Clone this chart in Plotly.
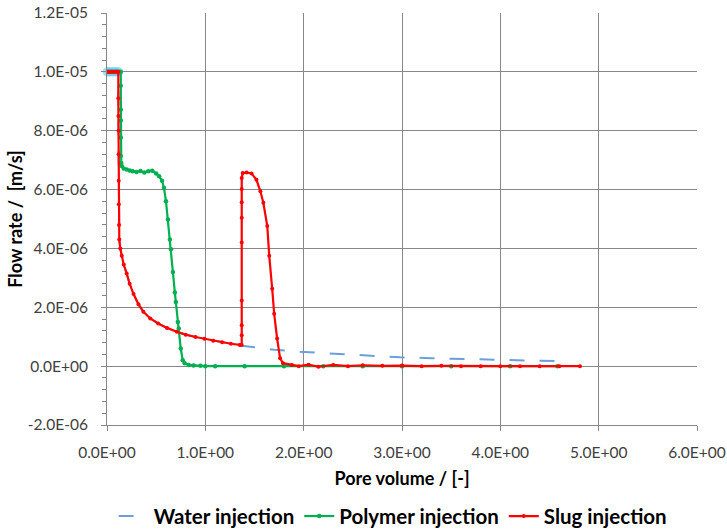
import plotly.graph_objects as go

SCALE = 1e-6  # values below are in units of 1e-6 m/s

water_x = [0.00, 0.03, 0.06, 0.09, 0.115, 0.118, 0.12, 0.125, 0.135, 0.15, 0.17, 0.20, 0.23, 0.27, 0.32,
           0.37, 0.44, 0.52, 0.61, 0.71, 0.80, 0.90, 0.99, 1.08, 1.17, 1.26, 1.35, 1.50, 1.70, 1.96,
           2.30, 2.60, 2.98, 3.30, 3.60, 3.98, 4.30, 4.56]
water_y = [10.0, 10.0, 10.0, 10.0, 10.0, 7.2, 5.5, 4.3, 4.0, 3.75, 3.45, 3.15, 2.8, 2.45, 2.1,
           1.85, 1.62, 1.45, 1.3, 1.17, 1.07, 0.99, 0.93, 0.86, 0.81, 0.76, 0.70, 0.64, 0.56, 0.49,
           0.42, 0.37, 0.30, 0.27, 0.24, 0.21, 0.19, 0.17]

glow_x = [-0.04, 0.00, 0.03, 0.06, 0.09, 0.12]
glow_y = [10.0, 10.0, 10.0, 10.0, 10.0, 10.0]

poly_x = [0.00, 0.02, 0.04, 0.06, 0.08, 0.10, 0.12, 0.14, 0.14, 0.14, 0.14, 0.14, 0.14, 0.145, 0.15,
          0.17, 0.20, 0.23, 0.26, 0.30, 0.34, 0.38, 0.42, 0.46, 0.50, 0.53, 0.56, 0.58, 0.60, 0.62,
          0.64, 0.65, 0.67, 0.69, 0.70, 0.72, 0.73, 0.75, 0.77, 0.79, 0.83, 0.88, 0.95, 1.00, 1.10,
          1.40, 1.80, 2.20, 2.60, 3.00, 3.50, 4.10, 4.58]
poly_y = [10.0, 10.0, 10.0, 10.0, 10.0, 10.0, 10.0, 10.0, 9.53, 8.71, 8.35, 7.77, 7.14, 6.90, 6.80,
          6.72, 6.68, 6.65, 6.62, 6.60, 6.63, 6.58, 6.62, 6.64, 6.55, 6.45, 6.30, 6.05, 5.60, 4.98,
          4.30, 3.97, 3.20, 2.50, 2.18, 1.50, 1.28, 0.60, 0.20, 0.10, 0.04, 0.02, 0.01, 0.0, 0.0,
          0.0, 0.0, 0.0, 0.0, 0.0, 0.0, 0.0, 0.0]

slug_x = [0.00, 0.02, 0.04, 0.06, 0.08, 0.10, 0.115, 0.115, 0.116, 0.117, 0.118, 0.119, 0.12, 0.122,
          0.125, 0.135, 0.15, 0.17, 0.20, 0.23, 0.27, 0.32, 0.37, 0.44, 0.52, 0.61, 0.71, 0.80, 0.90,
          0.99, 1.08, 1.17, 1.26, 1.35, 1.37, 1.37, 1.37, 1.37, 1.37, 1.37, 1.37, 1.37, 1.37, 1.38,
          1.42, 1.47, 1.52, 1.56, 1.59, 1.63, 1.65, 1.68, 1.70, 1.73, 1.76, 1.79, 1.88, 1.95, 2.05,
          2.15, 2.30, 2.45, 2.60, 2.80, 3.00, 3.20, 3.40, 3.60, 3.80, 4.00, 4.20, 4.40, 4.60, 4.81]
slug_y = [10.0, 10.0, 10.0, 10.0, 10.0, 10.0, 10.0, 9.1, 8.5, 8.0, 7.2, 6.3, 5.5, 4.8,
          4.3, 4.0, 3.75, 3.45, 3.15, 2.8, 2.45, 2.1, 1.85, 1.62, 1.45, 1.3, 1.17, 1.07, 0.99,
          0.93, 0.86, 0.81, 0.76, 0.72, 0.72, 1.05, 1.39, 2.23, 4.2, 5.04, 5.57, 6.02, 6.39, 6.56,
          6.58, 6.55, 6.33, 5.94, 5.55, 4.76, 3.75, 2.63, 1.78, 0.94, 0.27, 0.10, 0.04, 0.0, 0.05,
          -0.02, 0.04, 0.0, 0.03, 0.01, 0.02, 0.0, 0.01, 0.0, 0.0, 0.0, 0.0, 0.0, 0.0, 0.0]

x_ticks = [0, 1, 2, 3, 4, 5, 6]
x_ticklabels = ["0.0E+00", "1.0E+00", "2.0E+00", "3.0E+00", "4.0E+00", "5.0E+00", "6.0E+00"]
y_ticks = [-2, 0, 2, 4, 6, 8, 10, 12]
y_ticklabels = ["-2.0E-06", "0.0E+00", "2.0E-06", "4.0E-06", "6.0E-06", "8.0E-06", "1.0E-05", "1.2E-05"]

def sc(v):
    return [a * SCALE for a in v]

FONT = "Lato, 'Open Sans', sans-serif"

fig = go.Figure()
fig.add_trace(go.Scatter(x=glow_x, y=sc(glow_y), mode="lines+markers", showlegend=False, hoverinfo="skip",
                         cliponaxis=False,
                         line=dict(color="rgba(110,200,245,0.6)", width=9),
                         marker=dict(color="rgba(110,200,245,0.6)", size=9)))
fig.add_trace(go.Scatter(x=water_x, y=sc(water_y), mode="lines", name="Water injection",
                         line=dict(color="#6A9FDB", width=2, dash="longdash")))
fig.add_trace(go.Scatter(x=poly_x, y=sc(poly_y), mode="lines+markers", name="Polymer injection",
                         line=dict(color="#00B050", width=2.2),
                         marker=dict(color="#00B050", size=4.5)))
fig.add_trace(go.Scatter(x=slug_x, y=sc(slug_y), mode="lines+markers", name="Slug injection",
                         line=dict(color="#FF0000", width=2.2),
                         marker=dict(color="#FF0000", size=4)))

axis_common = dict(showgrid=True, gridcolor="#878787", gridwidth=1, showline=True,
                   linecolor="#878787", linewidth=1, zeroline=False, ticks="outside",
                   ticklen=5, tickcolor="#878787", automargin=False,
                   tickfont=dict(family=FONT, size=15.5, color="#404040"))

fig.update_xaxes(range=[0, 6], tickvals=x_ticks, ticktext=x_ticklabels, ticklabelstandoff=8,
                 title=dict(text="<b>Pore volume / [-]</b>", font=dict(family=FONT, size=18, color="#000"),
                            standoff=12), **axis_common)
fig.update_yaxes(range=[-2e-6, 12e-6], tickvals=sc(y_ticks), ticktext=y_ticklabels, ticklabelstandoff=10,
                 minor=dict(ticks="outside", dtick=0.4e-6, tick0=0, ticklen=4, tickcolor="#878787",
                            showgrid=False),
                 title=dict(text="<b>Flow rate /  [m/s]</b>", font=dict(family=FONT, size=18, color="#000"),
                            standoff=0), **axis_common)

fig.update_layout(
    width=727, height=530,
    margin=dict(l=107, r=30, t=13, b=105, autoexpand=False),
    plot_bgcolor="white", paper_bgcolor="white",
    font=dict(family=FONT),
    legend=dict(orientation="h", x=0.485, xanchor="center", yref="container", y=0.026, yanchor="middle",
                font=dict(family=FONT, size=20.5, color="#000", weight="bold"),
                itemwidth=30, tracegroupgap=0),
)

fig.write_html("out.html")
